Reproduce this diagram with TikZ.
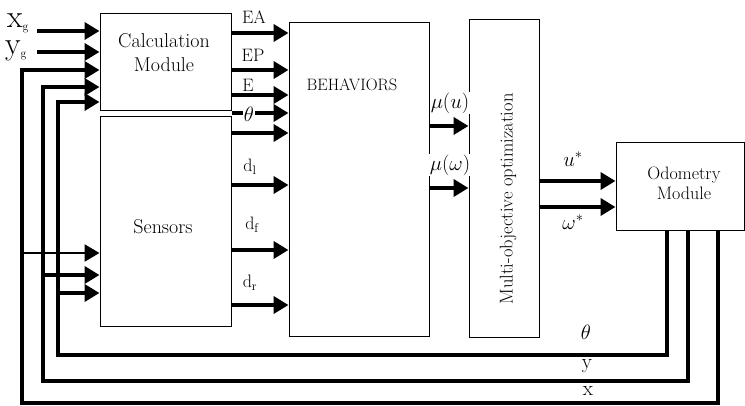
\documentclass[tikz,border=0pt]{standalone}
\usetikzlibrary{arrows.meta}
\begin{document}
\begin{tikzpicture}[x=1pt,y=-1pt,
  box/.style={draw,line width=1pt,inner sep=0pt},
  sig/.style={line width=4.5pt,-{Triangle[length=15pt,width=17pt]}},
  thinsig/.style={line width=2.5pt,-{Triangle[length=15pt,width=17pt]}},
  fbarrow/.style={line width=4pt,-{Triangle[length=15pt,width=17pt]}},
  lab/.style={font=\fontsize{18}{18}\selectfont,inner sep=1pt},
  mlab/.style={font=\fontsize{22}{22}\selectfont,inner sep=1pt},
]
\useasboundingbox (0,0) rectangle (745,406);

% blocks
\node[box,minimum width=131pt,minimum height=97pt]  (calc) at (165.5,62.5) {};
\node[box,minimum width=131pt,minimum height=210pt] (sens) at (165.5,222) {};
\node[box,minimum width=140pt,minimum height=314pt] (beh)  at (359,180) {};
\node[box,minimum width=70pt, minimum height=318pt] (moo)  at (504,179) {};
\node[box,minimum width=128pt,minimum height=88pt]  (odo)  at (680,187) {};

% block captions
\node[font=\fontsize{20}{24}\selectfont,align=center] (calctxt) at (164,53) {Calculation\\Module};
\node[font=\fontsize{20}{20}\selectfont] (senstxt) at (163,227) {Sensors};
\node[font=\fontsize{16.5}{16.5}\selectfont] (behtxt) at (352,85) {BEHAVIORS};
\node[font=\fontsize{18.5}{18.5}\selectfont,rotate=90] (mootxt) at (508,199) {Multi-objective optimization};
\node[font=\fontsize{18}{20}\selectfont,align=center] (odotxt) at (684,183) {Odometry\\Module};

% goal inputs
\node[anchor=base west,inner sep=0pt,font=\fontsize{32}{32}\selectfont] (xg) at (7,28)
  {x\raisebox{-3pt}{\fontsize{12}{12}\selectfont g}};
\node[anchor=base west,inner sep=0pt,font=\fontsize{32}{32}\selectfont] (yg) at (5,55)
  {y\raisebox{-3pt}{\fontsize{12}{12}\selectfont g}};
\draw[sig] (xg.east |- 0,31) ++(8,0) -- (calc.west |- 0,31);
\draw[sig] (yg.east |- 0,52) ++(10,0) -- (calc.west |- 0,52);

% feedback turning points
\coordinate (xd) at (718,403);
\coordinate (xl) at (22,403);
\coordinate (yd) at (688,381);
\coordinate (yl) at (43,381);
\coordinate (td) at (667,355);
\coordinate (tl) at (58,355);

% feedback loops from odometry
\draw[fbarrow] (odo.south -| xd) -- (xd) -- (xl) |- (calc.west |- 0,70);
\draw[fbarrow] (odo.south -| yd) -- (yd) -- (yl) |- (calc.west |- 0,87);
\draw[fbarrow] (odo.south -| td) -- (td) -- (tl) |- (calc.west |- 0,102);
\draw[thinsig] (xl |- 0,253) -- (sens.west |- 0,253);
\draw[fbarrow] (yl |- 0,275) -- (sens.west |- 0,275);
\draw[fbarrow] (tl |- 0,293) -- (sens.west |- 0,293);

% calculation and sensor outputs
\draw[sig] (calc.east |- 0,33)  -- (beh.west |- 0,33);
\draw[sig] (calc.east |- 0,70)  -- (beh.west |- 0,70);
\draw[sig] (calc.east |- 0,95)  -- (beh.west |- 0,95);
\draw[sig] (calc.east |- 0,113) -- (beh.west |- 0,113);
\draw[sig] (sens.east |- 0,133) -- (beh.west |- 0,133);
\draw[sig] (sens.east |- 0,185) -- (beh.west |- 0,185);
\draw[sig] (sens.east |- 0,250) -- (beh.west |- 0,250);
\draw[sig] (sens.east |- 0,305) -- (beh.west |- 0,305);

% behaviour and optimiser outputs
\draw[sig] (beh.east |- 0,126) -- (moo.west |- 0,126);
\draw[sig] (beh.east |- 0,188) -- (moo.west |- 0,188);
\draw[sig] (moo.east |- 0,181) -- (odo.west |- 0,181);
\draw[sig] (moo.east |- 0,207) -- (odo.west |- 0,207);

% signal labels
\node[lab] (lEA) at (254,17) {EA};
\node[lab] (lEP) at (253,55) {EP};
\node[lab] (lE)  at (248,85) {E};
\node[mlab,fill=white,inner sep=0.5pt] (lth) at (249,114) {$\theta$};
\node[lab] (ldl) at (250,167) {d\textsubscript{l}};
\node[lab] (ldf) at (252,225) {d\textsubscript{f}};
\node[lab] (ldr) at (250,283) {d\textsubscript{r}};
\node[mlab,fill=white] (lmu)  at (450,103) {$\mu(u)$};
\node[mlab,fill=white] (lmuw) at (450,165) {$\mu(\omega)$};
\node[mlab] (lus) at (573,159) {$u^{*}$};
\node[mlab] (lws) at (573,222) {$\omega^{*}$};
\node[mlab] (fth) at (586,332) {$\theta$};
\node[font=\fontsize{21}{21}\selectfont,inner sep=1pt] (fy) at (587,366) {y};
\node[font=\fontsize{21}{21}\selectfont,inner sep=1pt] (fx) at (588,391) {x};
\end{tikzpicture}
\end{document}
